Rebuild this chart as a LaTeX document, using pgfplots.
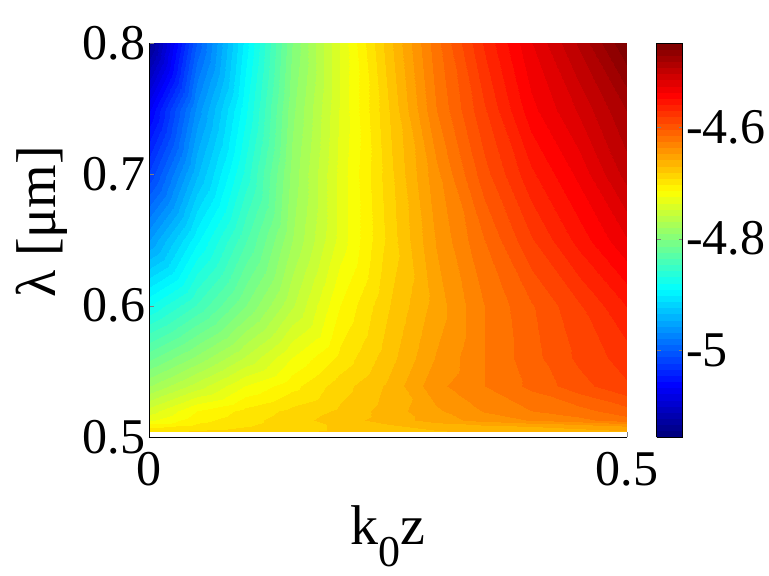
\documentclass[border=0pt]{standalone}
\usepackage{fontspec}
\setmainfont{Liberation Serif}
\usepackage{pgfplots}
\pgfplotsset{compat=1.18}

\newcommand{\tickfont}{\fontsize{50}{50}\selectfont}
\newcommand{\labfont}{\fontsize{56}{56}\selectfont}

\begin{document}
\begin{tikzpicture}
\useasboundingbox (-149pt,-139pt) rectangle (620pt,437pt);
\begin{axis}[
  at={(0,0)}, anchor=south west,
  scale only axis, width=478pt, height=394pt,
  view={0}{90},
  xmin=0, xmax=0.5, ymin=0.5, ymax=0.8,
  axis lines*=left,
  xtick={0,0.5}, xticklabels={0,0.5},
  ytick={0.5,0.6,0.7,0.8}, yticklabels={0.5,0.6,0.7,0.8},
  ztick=\empty,
  tick label style={font=\tickfont},
  xticklabel style={yshift=-12pt},
  tick align=inside, major tick length=5pt,
  xlabel={k\raisebox{-0.4em}{\fontsize{44}{44}\selectfont 0}z},
  xlabel style={font=\labfont, at={(axis description cs:0.5,-0.272)}, anchor=base},
  ylabel={λ [μm]},
  ylabel style={font=\labfont, at={(axis description cs:-0.195,0.546)}, anchor=base},
  colormap/jet,
  point meta min=-5.156, point meta max=-4.449,
  colorbar,
  colorbar style={
    at={(parent axis.north east)}, anchor=north west, xshift=21pt,
    scale only axis, width=26pt, height=394pt,
    ytick={-5,-4.8,-4.6}, yticklabels={-5,-4.8,-4.6},
    tick align=inside, major tick length=4pt,
    tick label style={font=\tickfont},
  },
]
\addplot3[contour filled={number=64}, mesh/cols=11] table {
x y z
0.00 0.504 -4.693
0.05 0.504 -4.689
0.10 0.504 -4.686
0.15 0.504 -4.682
0.20 0.504 -4.679
0.25 0.504 -4.675
0.30 0.504 -4.672
0.35 0.504 -4.668
0.40 0.504 -4.668
0.45 0.504 -4.665
0.50 0.504 -4.661
0.00 0.508 -4.707
0.05 0.508 -4.700
0.10 0.508 -4.693
0.15 0.508 -4.686
0.20 0.508 -4.679
0.25 0.508 -4.672
0.30 0.508 -4.665
0.35 0.508 -4.661
0.40 0.508 -4.658
0.45 0.508 -4.654
0.50 0.508 -4.647
0.00 0.513 -4.728
0.05 0.513 -4.707
0.10 0.513 -4.696
0.15 0.513 -4.686
0.20 0.513 -4.675
0.25 0.513 -4.665
0.30 0.513 -4.654
0.35 0.513 -4.643
0.40 0.513 -4.636
0.45 0.513 -4.629
0.50 0.513 -4.619
0.00 0.520 -4.742
0.05 0.520 -4.714
0.10 0.520 -4.700
0.15 0.520 -4.689
0.20 0.520 -4.679
0.25 0.520 -4.665
0.30 0.520 -4.650
0.35 0.520 -4.636
0.40 0.520 -4.626
0.45 0.520 -4.619
0.50 0.520 -4.608
0.00 0.539 -4.781
0.05 0.539 -4.753
0.10 0.539 -4.725
0.15 0.539 -4.707
0.20 0.539 -4.686
0.25 0.539 -4.668
0.30 0.539 -4.640
0.35 0.539 -4.626
0.40 0.539 -4.612
0.45 0.539 -4.597
0.50 0.539 -4.583
0.00 0.560 -4.817
0.05 0.560 -4.788
0.10 0.560 -4.757
0.15 0.560 -4.725
0.20 0.560 -4.700
0.25 0.560 -4.675
0.30 0.560 -4.647
0.35 0.560 -4.626
0.40 0.560 -4.608
0.45 0.560 -4.590
0.50 0.560 -4.576
0.00 0.600 -4.880
0.05 0.600 -4.845
0.10 0.600 -4.803
0.15 0.600 -4.760
0.20 0.600 -4.714
0.25 0.600 -4.682
0.30 0.600 -4.654
0.35 0.600 -4.626
0.40 0.600 -4.605
0.45 0.600 -4.583
0.50 0.600 -4.559
0.00 0.650 -4.958
0.05 0.650 -4.894
0.10 0.650 -4.838
0.15 0.650 -4.781
0.20 0.650 -4.732
0.25 0.650 -4.689
0.30 0.650 -4.647
0.35 0.650 -4.615
0.40 0.650 -4.583
0.45 0.650 -4.555
0.50 0.650 -4.527
0.00 0.700 -5.022
0.05 0.700 -4.937
0.10 0.700 -4.866
0.15 0.700 -4.788
0.20 0.700 -4.732
0.25 0.700 -4.686
0.30 0.700 -4.640
0.35 0.700 -4.597
0.40 0.700 -4.562
0.45 0.700 -4.534
0.50 0.700 -4.499
0.00 0.750 -5.071
0.05 0.750 -4.965
0.10 0.750 -4.884
0.15 0.750 -4.795
0.20 0.750 -4.735
0.25 0.750 -4.682
0.30 0.750 -4.626
0.35 0.750 -4.583
0.40 0.750 -4.541
0.45 0.750 -4.513
0.50 0.750 -4.481
0.00 0.800 -5.142
0.05 0.800 -5.000
0.10 0.800 -4.898
0.15 0.800 -4.803
0.20 0.800 -4.735
0.25 0.800 -4.675
0.30 0.800 -4.619
0.35 0.800 -4.569
0.40 0.800 -4.527
0.45 0.800 -4.491
0.50 0.800 -4.449
};
\end{axis}
\end{tikzpicture}
\end{document}
